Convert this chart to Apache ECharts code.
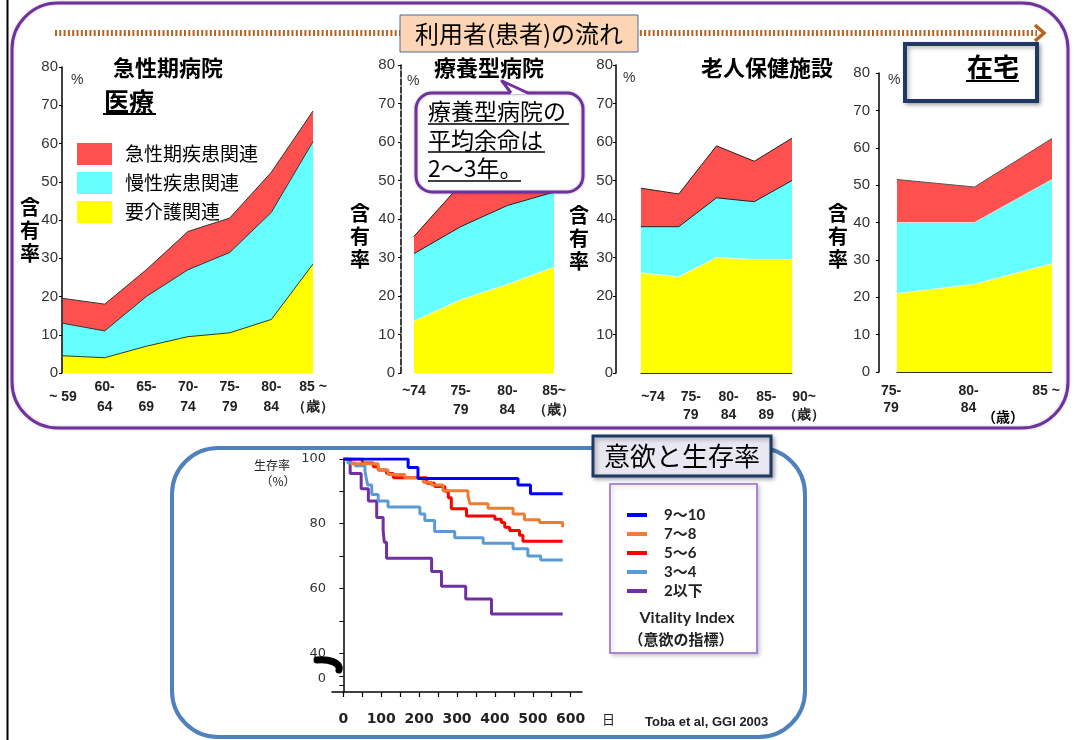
<!DOCTYPE html>
<html><head><meta charset="utf-8">
<script src="https://cdn.jsdelivr.net/npm/echarts@6/dist/echarts.min.js"></script>
<style>html,body{margin:0;padding:0;background:#fff}#c{width:1076px;height:740px}</style>
</head><body><div id="c"></div><script>
// ---------- DATA ----------
// 急性期病院 (tops of each layer, %)
const acuteAges = ['~ 59','60-\n64','65-\n69','70-\n74','75-\n79','80-\n84','85 ~\n（歳）'];
const acuteCareTop    = [4.5, 4, 7, 9.5, 10.5, 14, 28.5];
const acuteChronicTop = [13, 11, 20, 27, 31.5, 42, 60.5];
const acuteAcuteTop   = [19.5, 18, 27, 37, 40.5, 52.5, 68.5];
// 療養型病院
const ryoAges = ['~74','75-\n79','80-\n84','85~\n（歳）'];
const ryoCareTop    = [13.5, 19, 23, 27.5];
const ryoChronicTop = [31, 38, 43.5, 47];
const ryoAcuteTop   = [35.5, 49, 54.5, 57.5];
// 老人保健施設
const rokenAges = ['~74','75-\n79','80-\n84','85-\n89','90~\n（歳）'];
const rokenCareTop    = [26, 25, 30, 29.5, 29.5];
const rokenChronicTop = [38, 38, 45.5, 44.5, 50];
const rokenAcuteTop   = [48, 46.5, 59, 55, 61];
// 在宅
const homeAges = ['75-\n79','80-\n84','85 ~'];
const homeCareTop    = [21, 23.5, 29];
const homeChronicTop = [40, 40, 51.5];
const homeAcuteTop   = [51.5, 49.5, 62.5];
// 意欲と生存率 : [日, 生存率%]
const vi9to10 = [[0,100],[171,97.4],[197,94],[461,92],[494,89.3],[579,89.3]];
const vi7to8  = [[18,98.5],[92,96.6],[118,95.2],[162,94.2],[211,92.8],[233,92],[263,90.2],[329,88.5],[334,86.2],[382,84.8],[448,83],[478,81.2],[518,80.4],[579,78.9]];
const vi5to6  = [[0,100],[50,98.8],[79,97.6],[92,96.6],[114,95.5],[132,94.2],[220,92.5],[241,91.5],[268,90],[277,88],[285,84.6],[325,82.4],[400,81.4],[417,80.4],[426,78.9],[439,77.9],[465,76.4],[474,74.6],[579,74.6]];
const vi3to4  = [[0,100],[12,98.8],[31,97.9],[57,96.4],[60,94.4],[64,92],[75,89],[92,87],[118,85.2],[202,83],[215,81],[241,77.6],[294,75.7],[369,74],[448,72.3],[487,70],[521,68.8],[579,68.8]];
const vi2less = [[0,100],[18,95.5],[47,90.8],[66,87],[88,81.9],[105,77.9],[108,74.3],[114,69.3],[233,65.2],[259,60.7],[323,56.7],[391,52.1],[579,52.1]];
const dayTicks = [0,50,100,150,200,250,300,350,400,450,500,550,600];
const dayLabels = [0,100,200,300,400,500,600];
const survTicks = [30,33,40,50,60,70,80,90,100];
const survLabels = [32,40,60,80,100];

const layerNames = ['急性期疾患関連','慢性疾患関連','要介護関連'];
const viNames = ['9～10','7～8','5～6','3～4','2以下'];

// ---------- STYLE ----------
const JP = '"Noto Sans CJK JP", sans-serif';
const AR = '"Liberation Sans", Arial, sans-serif';
const DV = '"DejaVu Sans", sans-serif';
const RED = '#ff5050', CYAN = '#66ffff', YEL = '#ffff00';

const grids = [
  {left:63, top:67, width:250, height:306},
  {left:414, top:65, width:140, height:308},
  {left:641, top:65, width:151, height:308},
  {left:897, top:73, width:155, height:299},
  {left:332, top:459, width:250, height:233}
];

function topY(i, offset, margin, lineType){
  return {type:'value', gridIndex:i, min:0, max:80, interval:10, offset:offset,
    axisLine:{show:true, lineStyle:{color:'#000', width:1.5, type:lineType||'solid'}},
    axisTick:{show:true, length:3, lineStyle:{color:'#000'}},
    splitLine:{show:false},
    axisLabel:{fontFamily:AR, fontSize:15, color:'#333', margin:margin}};
}
function topX(i, data, label, showLine){
  return {type:'category', gridIndex:i, boundaryGap:false, data:data,
    axisLine:{show:showLine, lineStyle:{color:'#333', width:1}},
    axisTick:{show:false},
    axisLabel:Object.assign({interval:0, fontFamily:AR, fontWeight:'bold', fontSize:14, color:'#222'}, label)};
}
function area(i, name, data, color, lc, lw){
  return {type:'line', name:name, xAxisIndex:i, yAxisIndex:i, data:data, symbol:'none', showSymbol:false,
    itemStyle:{color:color}, lineStyle:{color:lc, width:lw}, areaStyle:{color:color, opacity:1},
    emphasis:{disabled:true}, silent:true, z:2};
}
function stackOf(i, acute, chronic, care, lcs){
  return [area(i, layerNames[0], acute, RED, lcs[0], 1),
          area(i, layerNames[1], chronic, CYAN, lcs[1], 1),
          area(i, layerNames[2], care, YEL, lcs[2], 1)];
}
function step(name, data, color){
  return {type:'line', name:name, xAxisIndex:4, yAxisIndex:4, data:data, step:'end', symbol:'none', showSymbol:false,
    itemStyle:{color:color}, lineStyle:{color:color, width:3}, emphasis:{disabled:true}, silent:true, z:3};
}

function txt(x, y, text, size, opts){
  return {type:'text', x:x, y:y, z:20,
    style:Object.assign({text:text, fontSize:size, fontFamily:JP, fill:'#000', align:'left', verticalAlign:'middle'}, (opts||{}))};
}
function hline(x1, x2, y, w, color){
  return {type:'line', z:20, shape:{x1:x1, y1:y, x2:x2, y2:y}, style:{stroke:color||'#000', lineWidth:w||1.5}};
}
function vtext(x, y, size){
  return txt(x, y, '含\n有\n率', size, {fontWeight:'bold', align:'center', verticalAlign:'top', lineHeight:23});
}

const chart = echarts.init(document.getElementById('c'));
chart.setOption({
  animation:false,
  backgroundColor:'#fff',
  grid:grids,
  xAxis:[
    topX(0, acuteAges, {verticalAlign:'middle', margin:24, lineHeight:20}, false),
    topX(1, ryoAges, {verticalAlign:'top', margin:9, lineHeight:19}, false),
    topX(2, rokenAges, {verticalAlign:'top', margin:15, lineHeight:18, padding:[0,0,0,24]}, true),
    topX(3, homeAges, {verticalAlign:'top', margin:11, lineHeight:17, padding:[0,12,0,0]}, true),
    {type:'value', gridIndex:4, min:-30, max:630,
      axisLine:{show:true, lineStyle:{color:'#000', width:1.5}},
      axisTick:{show:true, customValues:dayTicks, length:5, lineStyle:{color:'#000', width:1.2}},
      splitLine:{show:false},
      axisLabel:{customValues:dayLabels, fontFamily:DV, fontWeight:'bold', fontSize:14, color:'#222', margin:20}}
  ],
  yAxis:[
    topY(0, 1, 4),
    topY(1, 13, 6, [6,2]),
    topY(2, 25, 3),
    topY(3, 18, 9),
    {type:'value', gridIndex:4, min:28, max:100,
      axisLine:{show:true, lineStyle:{color:'#000', width:1.5}},
      axisTick:{show:true, customValues:survTicks, length:4, lineStyle:{color:'#000'}},
      splitLine:{show:false},
      axisLabel:{customValues:survLabels, fontFamily:DV, fontSize:13, color:'#333', margin:6,
        formatter:function(v){ return v === 32 ? '0' : String(v); }}}
  ],
  legend:[
    {data:layerNames, orient:'vertical', left:72, top:138, itemWidth:35, itemHeight:22, itemGap:7, icon:'rect',
      itemStyle:{borderWidth:0}, selectedMode:false,
      textStyle:{fontFamily:JP, fontSize:19, color:'#000', padding:[0,0,0,8]}},
    {data:viNames, orient:'vertical', left:622, top:502, itemWidth:20, itemHeight:4, itemGap:3, icon:'rect',
      itemStyle:{borderWidth:0}, selectedMode:false,
      textStyle:{fontFamily:'Lato, "Noto Sans CJK JP", sans-serif', fontWeight:'bold', fontSize:15, lineHeight:16, color:'#222', padding:[0,0,0,12]}}
  ],
  series:[].concat(
    stackOf(0, acuteAcuteTop, acuteChronicTop, acuteCareTop, ['#333','#333','#333']),
    stackOf(1, ryoAcuteTop, ryoChronicTop, ryoCareTop, ['#222','#222','#f4f4f4']),
    stackOf(2, rokenAcuteTop, rokenChronicTop, rokenCareTop, ['#222','#222','#f4f4f4']),
    stackOf(3, homeAcuteTop, homeChronicTop, homeCareTop, ['#555','#ddd','#eee']),
    [step(viNames[4], vi2less, '#7030a0'),
     step(viNames[3], vi3to4, '#5b9bd5'),
     step(viNames[2], vi5to6, '#ff0000'),
     step(viNames[1], vi7to8, '#ed7d31'),
     step(viNames[0], vi9to10, '#0000ff')]
  ),
  graphic:[
    // frames
    {type:'line', z:1, shape:{x1:7.5, y1:0, x2:7.5, y2:740}, style:{stroke:'#000', lineWidth:2}},
    {type:'rect', z:0, shape:{x:12, y:3, width:1056, height:425, r:46}, style:{fill:null, stroke:'#7030a0', lineWidth:3, shadowBlur:3, shadowColor:'rgba(0,0,0,0.25)'}},
    {type:'rect', z:0, shape:{x:172, y:448, width:633, height:289, r:46}, style:{fill:null, stroke:'#4f81bd', lineWidth:4}},
    // flow arrow
    {type:'line', z:5, shape:{x1:55, y1:33, x2:1037, y2:33}, style:{stroke:'#b8621e', lineWidth:6, lineDash:[2,2.3]}},
    {type:'polyline', z:5, shape:{points:[[1035,25],[1044,33],[1035,41]]}, style:{stroke:'#b8621e', lineWidth:3.5, fill:null}},
    {type:'rect', z:10, shape:{x:400, y:15, width:238, height:37}, style:{fill:'#fcd5b5', stroke:'#4a6a9a', lineWidth:1}},
    txt(519, 34, '利用者(患者)の流れ', 24, {align:'center'}),
    // titles
    txt(168, 68, '急性期病院', 22, {fontWeight:'bold', align:'center'}),
    txt(129, 101, '医療', 25, {fontWeight:'bold', align:'center'}),
    hline(103, 156, 114, 1.8),
    txt(489, 68, '療養型病院', 22, {fontWeight:'bold', align:'center'}),
    txt(767, 68, '老人保健施設', 22, {fontWeight:'bold', align:'center'}),
    {type:'rect', z:10, shape:{x:905, y:44, width:132, height:57}, style:{fill:'#fff', stroke:'#1f3864', lineWidth:4, shadowBlur:4, shadowOffsetX:2, shadowOffsetY:2, shadowColor:'rgba(0,0,0,0.3)'}},
    txt(993, 67, '在宅', 26, {fontWeight:'bold', align:'center'}),
    hline(966, 1019, 81, 1.8),
    // % marks
    txt(71, 80, '%', 14, {fontFamily:AR, fill:'#333'}),
    txt(407, 81, '%', 14, {fontFamily:AR, fill:'#333'}),
    txt(623, 78, '%', 14, {fontFamily:AR, fill:'#333'}),
    txt(888, 80, '%', 14, {fontFamily:AR, fill:'#333'}),
    // 含有率
    vtext(30, 196, 20), vtext(360, 202, 20), vtext(579, 204, 20), vtext(838, 202, 20),
    txt(1003, 417, '（歳）', 14, {fontWeight:'bold', align:'center'}),
    // speech bubble
    {type:'rect', z:12, shape:{x:416, y:93, width:167, height:99, r:16},
      style:{fill:'#fff', stroke:'#7030a0', lineWidth:3, shadowBlur:3, shadowColor:'rgba(0,0,0,0.25)'}},
    {type:'polygon', z:13, shape:{points:[[511,94.5],[502,81],[528,94.5]]}, style:{fill:'#fff', stroke:null}},
    {type:'polyline', z:14, shape:{points:[[511,93],[502,81],[528,93]]}, style:{fill:null, stroke:'#7030a0', lineWidth:3, lineJoin:'round'}},
    txt(428, 111, '療養型病院の', 23),
    hline(428, 569, 124, 1.5),
    txt(428, 140, '平均余命は', 23),
    hline(428, 545, 152, 1.5),
    txt(428, 168, '2～3年。', 23),
    hline(428, 521, 181, 1.5),
    // bottom chart decorations
    {type:'rect', z:10, shape:{x:593, y:436, width:178, height:40}, style:{fill:'#e9e7f1', stroke:'#1f3864', lineWidth:3, shadowBlur:4, shadowOffsetX:2, shadowOffsetY:2, shadowColor:'rgba(0,0,0,0.3)'}},
    txt(682, 456, '意欲と生存率', 26, {align:'center'}),
    {type:'rect', z:-1, shape:{x:610, y:484, width:147, height:169}, style:{fill:'#fff', stroke:'#9966cc', lineWidth:1.5, shadowBlur:4, shadowOffsetX:2, shadowOffsetY:2, shadowColor:'rgba(0,0,0,0.2)'}},
    txt(687, 618, 'Vitality Index', 16, {fontFamily:'Lato, sans-serif', fontWeight:'bold', align:'center', fill:'#222'}),
    txt(681, 639, '（意欲の指標）', 15, {fontWeight:'bold', align:'center', fill:'#222'}),
    txt(272, 465, '生存率', 12, {align:'center', fill:'#222'}),
    txt(278, 481, '（%）', 12, {align:'center', fill:'#222'}),
    txt(602, 719, '日', 13, {fill:'#222'}),
    txt(645, 722, 'Toba et al, GGI 2003', 13, {fontFamily:AR, fontWeight:'bold', fill:'#222'}),
    {type:'bezierCurve', z:20, shape:{x1:317, y1:660, cpx1:328, cpy1:659, cpx2:341, cpy2:662, x2:339, y2:670}, style:{fill:null, stroke:'#000', lineWidth:7, lineCap:'round'}}
  ]
});
</script></body></html>
